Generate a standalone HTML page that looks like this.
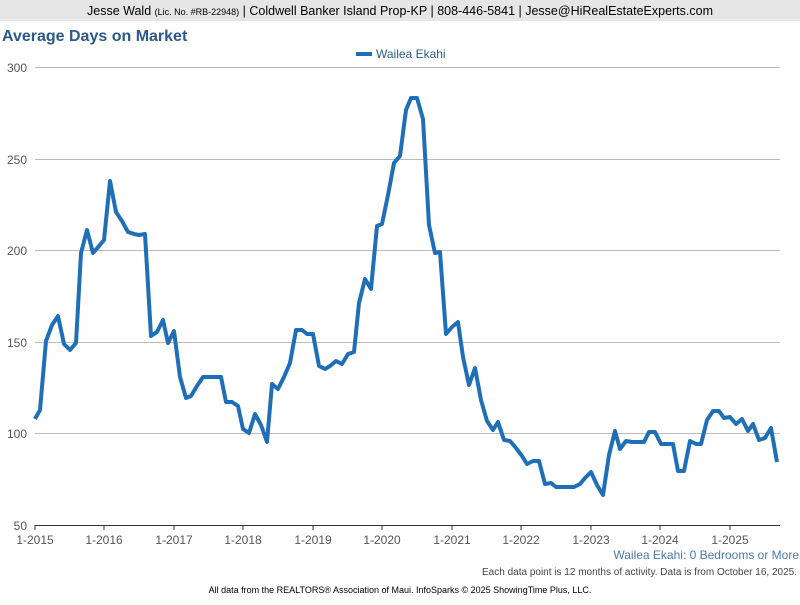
<!DOCTYPE html>
<html><head><meta charset="utf-8"><style>
body{margin:0;width:800px;height:600px;background:#fff;font-family:"Liberation Sans",sans-serif;overflow:hidden}
</style></head><body>
<svg width="800" height="600" xmlns="http://www.w3.org/2000/svg" font-family="Liberation Sans, sans-serif">
<rect x="0" y="0" width="800" height="21" fill="#e6e6e6"/>
<text x="400" y="15" text-anchor="middle" font-size="12.5" fill="#000">Jesse Wald <tspan font-size="9">(Lic. No. #RB-22948)</tspan> | Coldwell Banker Island Prop-KP | 808-446-5841 | Jesse@HiRealEstateExperts.com</text>
<text x="2" y="41" font-size="16" font-weight="bold" fill="#2a5a8c">Average Days on Market</text>
<rect x="356" y="52" width="16" height="4" fill="#1f6fb8"/>
<text x="376" y="58" font-size="12" fill="#2a5a8c">Wailea Ekahi</text>
<g stroke="#bbb" stroke-width="1">
<line x1="35" y1="67.5" x2="780" y2="67.5"/>
<line x1="35" y1="159.5" x2="780" y2="159.5"/>
<line x1="35" y1="250.5" x2="780" y2="250.5"/>
<line x1="35" y1="342.5" x2="780" y2="342.5"/>
<line x1="35" y1="433.5" x2="780" y2="433.5"/>
</g>
<line x1="35" y1="525.5" x2="780" y2="525.5" stroke="#333"/>
<g stroke="#333">
<line x1="35" y1="525" x2="35" y2="530"/><line x1="104" y1="525" x2="104" y2="530"/><line x1="174" y1="525" x2="174" y2="530"/><line x1="243" y1="525" x2="243" y2="530"/><line x1="313" y1="525" x2="313" y2="530"/><line x1="382" y1="525" x2="382" y2="530"/><line x1="452" y1="525" x2="452" y2="530"/><line x1="521" y1="525" x2="521" y2="530"/><line x1="591" y1="525" x2="591" y2="530"/><line x1="660" y1="525" x2="660" y2="530"/><line x1="730" y1="525" x2="730" y2="530"/>
</g>
<g font-size="12" fill="#555" text-anchor="end">
<text x="27" y="72">300</text><text x="27" y="164">250</text><text x="27" y="255">200</text><text x="27" y="347">150</text><text x="27" y="438">100</text><text x="27" y="530">50</text>
</g>
<g font-size="12" fill="#555" text-anchor="middle">
<text x="35" y="544">1-2015</text><text x="104" y="544">1-2016</text><text x="174" y="544">1-2017</text><text x="243" y="544">1-2018</text><text x="313" y="544">1-2019</text><text x="382" y="544">1-2020</text><text x="452" y="544">1-2021</text><text x="521" y="544">1-2022</text><text x="591" y="544">1-2023</text><text x="660" y="544">1-2024</text><text x="730" y="544">1-2025</text>
</g>
<polyline fill="none" stroke="#1f6fb8" stroke-width="4" stroke-linejoin="round" points="35,419 40,410 46,341 52,325 58,316 64,344 70,350 76,343 81,253 87,230 93,253 99,246 104,240 110,181 116,212 122,221 128,232 134,234 139,235 145,234 151,336 157,332 163,320 168,343 174,331 180,377 186,398 191,396 197,386 203,377 209,377 215,377 221,377 226,402 232,402 238,406 243,429 249,433 255,414 261,425 267,442 272,384 278,389 284,377 290,363 296,330 302,330 307,334 313,334 319,366 325,369 330,366 336,361 342,364 348,354 354,352 359,303 365,279 371,289 377,226 382,224 388,195 394,163 400,156 406,110 411,98 417,98 423,119 429,225 435,253 440,252 446,334 452,327 458,322 463,357 469,385 475,368 481,400 487,421 493,430 498,422 504,440 510,441 516,448 522,456 527,464 533,461 539,461 545,484 551,483 556,487 562,487 568,487 574,487 580,484 585,478 591,472 597,485 603,495 609,455 615,431 620,449 626,441 632,442 638,442 644,442 649,432 655,432 661,444 667,444 673,444 678,471 684,471 690,441 696,444 701,444 707,420 713,411 719,411 724,418 730,417 736,424 742,419 748,431 753,424 759,440 765,438 771,428 777,462"/>
<text x="799" y="559" text-anchor="end" font-size="12" fill="#4a7ab0">Wailea Ekahi: 0 Bedrooms or More</text>
<text x="797" y="575" text-anchor="end" font-size="10" fill="#444">Each data point is 12 months of activity. Data is from October 16, 2025.</text>
<text x="400" y="593" text-anchor="middle" font-size="9" fill="#000">All data from the REALTORS® Association of Maui. InfoSparks © 2025 ShowingTime Plus, LLC.</text>
</svg>
</body></html>
